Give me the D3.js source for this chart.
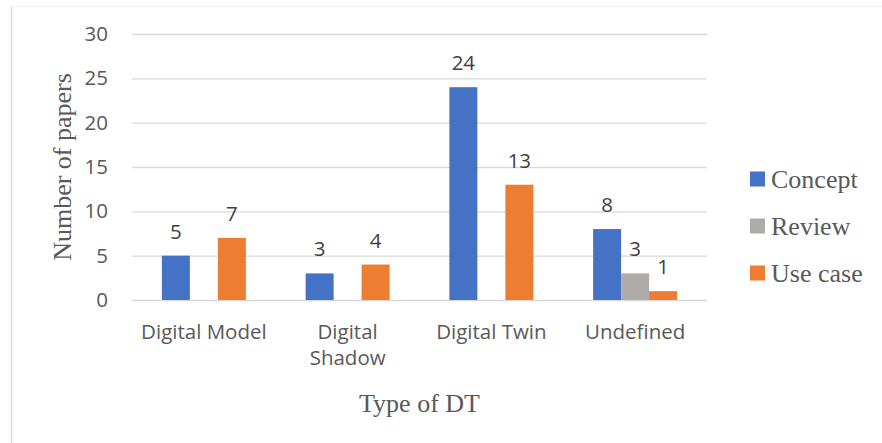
<!DOCTYPE html>
<html>
<head>
<meta charset="utf-8">
<script src="https://cdn.jsdelivr.net/npm/d3@7"></script>
<style>
  body { margin: 0; background: #fff; }
  svg { display: block; }
</style>
</head>
<body>
<div id="chart"></div>
<script>
// Data
const categories = ["Digital Model", "Digital Shadow", "Digital Twin", "Undefined"];
const seriesNames = ["Concept", "Review", "Use case"];
const concept = [5, 3, 24, 8];
const review = [0, 0, 0, 3];
const useCase = [7, 4, 13, 1];
const yTicks = [0, 5, 10, 15, 20, 25, 30];

const colors = ["#4472C4", "#AFABAB", "#ED7D31"];

const W = 882, H = 443;
const plot = { left: 132, right: 707, top: 34, bottom: 300 };
const sans = "'Open Sans', sans-serif";
const serif = "'Liberation Serif', serif";

const svg = d3.select("#chart").append("svg")
    .attr("width", W)
    .attr("height", H);

// faint frame round the chart
svg.append("line")
    .attr("x1", 11.5).attr("x2", 11.5).attr("y1", 6).attr("y2", H)
    .attr("stroke", "#d9d9d9").attr("stroke-width", 1.5);
svg.append("line")
    .attr("x1", 11).attr("x2", W).attr("y1", 6.5).attr("y2", 6.5)
    .attr("stroke", "#f2f2f2");

const x = d3.scaleBand()
    .domain(categories)
    .range([plot.left, plot.right]);

const xInner = d3.scaleBand()
    .domain(seriesNames)
    .range([0, 84]);

const y = d3.scaleLinear()
    .domain([0, 30])
    .range([plot.bottom, plot.top]);

// gridlines + y ticks
const yAxis = svg.append("g")
    .attr("transform", `translate(${plot.left}, 0)`)
    .call(d3.axisLeft(y).tickValues(yTicks).tickSize(-(plot.right - plot.left)).tickPadding(24));
yAxis.select(".domain").remove();
yAxis.selectAll(".tick line").attr("stroke", "#d9d9d9").attr("stroke-width", 1.3);
yAxis.selectAll(".tick text")
    .attr("fill", "#595959")
    .attr("font-family", sans)
    .attr("font-size", "20.5px");

// bars
const rows = categories.map((c, i) => ({
    cat: c,
    vals: [concept[i], review[i], useCase[i]]
}));

const groups = svg.append("g").selectAll("g")
    .data(rows)
    .join("g")
        .attr("transform", d => `translate(${x(d.cat) + (x.bandwidth() - 84) / 2}, 0)`);

groups.selectAll("rect")
    .data(d => d.vals.map((v, k) => ({ v, s: seriesNames[k], k })))
    .join("rect")
        .attr("x", d => xInner(d.s))
        .attr("y", d => y(d.v))
        .attr("width", xInner.bandwidth())
        .attr("height", d => y(0) - y(d.v))
        .attr("fill", d => colors[d.k]);

// value labels (only non-zero)
groups.selectAll("text")
    .data(d => d.vals.map((v, k) => ({ v, s: seriesNames[k], k })).filter(d => d.v > 0))
    .join("text")
        .attr("x", d => xInner(d.s) + xInner.bandwidth() / 2)
        .attr("y", d => y(d.v) - 17)
        .attr("text-anchor", "middle")
        .attr("fill", "#404040")
        .attr("font-family", sans)
        .attr("font-size", "20.5px")
        .text(d => d.v);

// category labels
const catLines = {
    "Digital Model": ["Digital Model"],
    "Digital Shadow": ["Digital", "Shadow"],
    "Digital Twin": ["Digital Twin"],
    "Undefined": ["Undefined"]
};
svg.append("g").selectAll("text")
    .data(categories)
    .join("text")
        .attr("x", d => x(d) + x.bandwidth() / 2)
        .attr("y", 339)
        .attr("text-anchor", "middle")
        .attr("fill", "#595959")
        .attr("font-family", sans)
        .attr("font-size", "20.5px")
        .each(function(d) {
            d3.select(this).selectAll("tspan")
                .data(catLines[d])
                .join("tspan")
                    .attr("x", x(d) + x.bandwidth() / 2)
                    .attr("dy", (t, i) => i === 0 ? 0 : 26)
                    .text(t => t);
        });

// axis titles
svg.append("text")
    .attr("x", (plot.left + plot.right) / 2)
    .attr("y", 412)
    .attr("text-anchor", "middle")
    .attr("fill", "#595959")
    .attr("font-family", serif)
    .attr("font-size", "26px")
    .text("Type of DT");

svg.append("text")
    .attr("transform", "translate(71, 167) rotate(-90)")
    .attr("text-anchor", "middle")
    .attr("fill", "#595959")
    .attr("font-family", serif)
    .attr("font-size", "26px")
    .text("Number of papers");

// legend
const legend = svg.append("g").selectAll("g")
    .data(seriesNames)
    .join("g")
        .attr("transform", (d, i) => `translate(750, ${179 + i * 47})`);
legend.append("rect")
    .attr("x", 0).attr("y", -7.5)
    .attr("width", 15).attr("height", 15)
    .attr("fill", (d, i) => colors[i]);
legend.append("text")
    .attr("x", 21)
    .attr("y", 9)
    .attr("fill", "#595959")
    .attr("font-family", serif)
    .attr("font-size", "26px")
    .text(d => d);
</script>
</body>
</html>
